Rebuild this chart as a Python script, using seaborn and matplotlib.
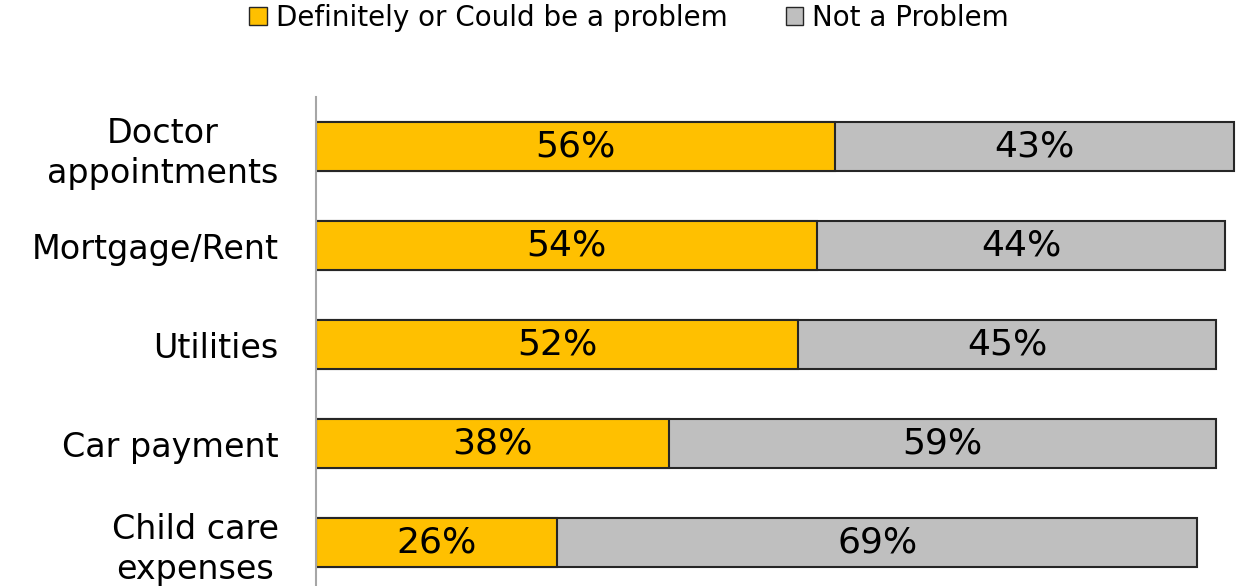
import matplotlib
matplotlib.use("Agg")
import matplotlib.pyplot as plt
import seaborn as sns
import pandas as pd
from matplotlib.patches import Patch

categories = ["Doctor\nappointments", "Mortgage/Rent", "Utilities", "Car payment", "Child care\nexpenses"]
problem = [56, 54, 52, 38, 26]
not_problem = [43, 44, 45, 59, 69]
series_names = ["Definitely or Could be a problem", "Not a Problem"]

GOLD = "#FFC000"
GRAY = "#BFBFBF"
EDGE = "#262626"

sns.set_theme(style="white")
plt.rcParams['font.family'] = ['DejaVu Sans']
plt.rcParams['text.color'] = 'black'
plt.rcParams['ytick.color'] = 'black'
plt.rcParams['ytick.labelcolor'] = 'black'

df = pd.DataFrame({"cat": categories, "problem": problem, "not_problem": not_problem})
df["total"] = df["problem"] + df["not_problem"]

fig = plt.figure(figsize=(12.39, 5.86), dpi=100)
ax = fig.add_axes([316/1239, -6/586, (1239-316)/1239, 495/586])

sns.barplot(data=df, x="total", y="cat", color=GRAY, width=0.5, edgecolor=EDGE,
            linewidth=1.5, saturation=1, ax=ax, orient="h")
sns.barplot(data=df, x="problem", y="cat", color=GOLD, width=0.5, edgecolor=EDGE,
            linewidth=1.5, saturation=1, ax=ax, orient="h")

for i, (p, n) in enumerate(zip(problem, not_problem)):
    ax.text(p / 2, i, f"{p}%", ha="center", va="center", fontsize=26, color="black")
    ax.text(p + n / 2, i, f"{n}%", ha="center", va="center", fontsize=26, color="black")

ax.set_xlim(0, 99.5)
ax.set_ylim(4.5, -0.5)
ax.set_xlabel("")
ax.set_ylabel("")
ax.set_xticks([])
ax.tick_params(axis="y", length=0, pad=27, labelsize=24, labelcolor="black")
for lab in ax.get_yticklabels():
    lab.set_multialignment("center")
    lab.set_linespacing(1.28)

for s in ["top", "right", "bottom"]:
    ax.spines[s].set_visible(False)
ax.spines["left"].set_color("#A6A6A6")
ax.spines["left"].set_linewidth(1.5)

handles = [Patch(facecolor=GOLD, edgecolor=EDGE, linewidth=1),
           Patch(facecolor=GRAY, edgecolor=EDGE, linewidth=1)]
leg = fig.legend(handles, series_names, loc="center", bbox_to_anchor=(629/1239, 1 - 18/586),
                 ncol=2, frameon=False, fontsize=20, handlelength=0.62, handleheight=0.62,
                 handletextpad=0.32, columnspacing=2.1, borderpad=0, borderaxespad=0)
for t in leg.get_texts():
    t.set_color("black")

fig.savefig("out.png", dpi=100)
